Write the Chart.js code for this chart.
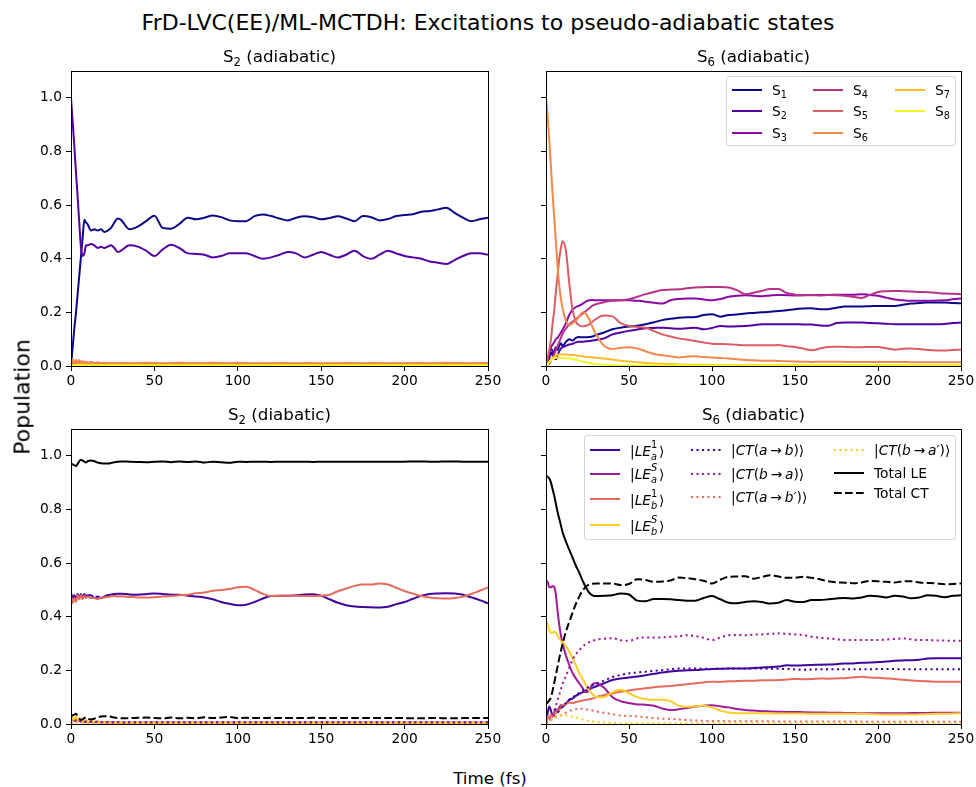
<!DOCTYPE html>
<html>
<head>
<meta charset="utf-8">
<script src="https://cdn.jsdelivr.net/npm/chart.js@4.4.1/dist/chart.umd.min.js"></script>
<style>
  body { margin: 0; background: #fff; font-family: 'DejaVu Sans', sans-serif; }
  #fig { position: relative; width: 976px; height: 787px; overflow: hidden; }
  canvas.panel { position: absolute; }
  .lbl { position: absolute; color: #000; white-space: nowrap; transform: translate(-50%, -50%); }
  .legend { position: absolute; border: 1px solid #d6d6d6; border-radius: 3px; background: rgba(255,255,255,0.8); font-size: 13.8px; color: #000; }
  .item { position: absolute; display: flex; align-items: center; height: 22px; white-space: nowrap; }
  .item svg { margin-right: 10px; flex: none; }
  sub { font-size: 0.7em; vertical-align: -0.3em; line-height: 0; }
  .ss { display: inline-block; position: relative; width: 8px; height: 14px; }
  .ss .up, .ss .dn { position: absolute; left: 0; font-size: 9.8px; line-height: 1; }
  .ss .up { top: -2px; }
  .ss .dn { top: 10px; }
</style>
</head>
<body>
<div id="fig">
  <canvas id="tl" class="panel"></canvas>
  <canvas id="tr" class="panel"></canvas>
  <canvas id="bl" class="panel"></canvas>
  <canvas id="br" class="panel"></canvas>
</div>
<script>
// time grid (fs)
const time = [0,1,2,3,4,5,6,7,8,9,10,12,14,16,18,20,22,24,26,28,30,
  35,40,45,50,55,60,65,70,75,80,85,90,95,100,105,110,115,120,125,130,135,140,145,150,
  155,160,165,170,175,180,185,190,195,200,205,210,215,220,225,230,235,240,245,250];

// ---- excitation to S2, adiabatic populations ----
const s2Adia_S1 = [0,0.07,0.14,0.2,0.27,0.34,0.41,0.48,0.545,0.535,0.528,0.505,0.51,0.505,0.51,0.5,0.505,0.515,0.535,0.55,0.545,
  0.51,0.52,0.54,0.56,0.515,0.512,0.53,0.553,0.547,0.553,0.561,0.555,0.543,0.54,0.54,0.559,0.565,0.559,0.55,0.543,
  0.553,0.558,0.555,0.547,0.552,0.558,0.55,0.54,0.559,0.555,0.543,0.548,0.559,0.563,0.566,0.575,0.578,0.584,0.59,0.571,
  0.553,0.54,0.547,0.553];
const s2Adia_S2 = [1,0.91,0.82,0.72,0.63,0.53,0.44,0.41,0.42,0.45,0.45,0.455,0.45,0.44,0.445,0.44,0.445,0.45,0.44,0.425,0.43,
  0.45,0.445,0.43,0.41,0.435,0.452,0.44,0.42,0.418,0.415,0.405,0.41,0.42,0.42,0.42,0.41,0.4,0.405,0.415,0.425,
  0.42,0.405,0.415,0.425,0.415,0.405,0.415,0.43,0.41,0.4,0.415,0.43,0.42,0.41,0.405,0.4,0.39,0.385,0.38,0.395,
  0.41,0.42,0.42,0.415];
const s2Adia_S3 = [0,0.006,0.01,0.006,0.009,0.005,0.008,0.005,0.007,0.004,0.006,0.005,0.004,0.005,0.004,0.004,0.003,0.004,0.003,0.003,0.003,
  0.003,0.003,0.004,0.003,0.003,0.003,0.003,0.004,0.003,0.003,0.003,0.003,0.003,0.004,0.003,0.003,0.003,0.003,0.003,0.003,
  0.003,0.003,0.004,0.003,0.003,0.003,0.003,0.003,0.003,0.003,0.003,0.003,0.003,0.003,0.004,0.003,0.003,0.003,0.003,0.003,
  0.003,0.003,0.003,0.003];
const s2Adia_S4 = [0,0.003,0.006,0.004,0.006,0.004,0.005,0.004,0.005,0.004,0.004,0.004,0.003,0.004,0.003,0.003,0.003,0.003,0.003,0.003,0.003,
  0.002,0.002,0.003,0.002,0.002,0.002,0.002,0.003,0.002,0.002,0.002,0.002,0.002,0.003,0.002,0.002,0.002,0.002,0.002,0.002,
  0.002,0.002,0.003,0.002,0.002,0.002,0.002,0.002,0.002,0.002,0.002,0.002,0.002,0.002,0.003,0.002,0.002,0.002,0.002,0.002,
  0.002,0.002,0.002,0.002];
const s2Adia_S5 = [0,0.02,0.01,0.022,0.008,0.02,0.01,0.018,0.01,0.016,0.012,0.015,0.01,0.013,0.01,0.011,0.009,0.01,0.009,0.01,0.009,
  0.008,0.009,0.009,0.01,0.009,0.008,0.009,0.009,0.01,0.009,0.008,0.009,0.009,0.01,0.009,0.008,0.008,0.009,0.009,0.008,
  0.008,0.009,0.009,0.008,0.008,0.009,0.009,0.008,0.008,0.009,0.009,0.008,0.008,0.009,0.009,0.008,0.009,0.009,0.01,0.009,
  0.008,0.009,0.009,0.008];
const s2Adia_S6 = [0,0.025,0.012,0.02,0.01,0.022,0.012,0.018,0.01,0.016,0.01,0.015,0.01,0.013,0.01,0.012,0.01,0.011,0.01,0.01,0.011,
  0.011,0.01,0.012,0.011,0.01,0.011,0.012,0.011,0.01,0.011,0.012,0.011,0.01,0.012,0.011,0.01,0.011,0.01,0.011,0.011,
  0.01,0.011,0.011,0.01,0.011,0.01,0.011,0.011,0.01,0.011,0.011,0.01,0.011,0.01,0.011,0.011,0.01,0.011,0.012,0.011,
  0.011,0.01,0.011,0.011];
const s2Adia_S7 = [0,0.004,0.006,0.005,0.006,0.005,0.006,0.005,0.005,0.005,0.005,0.005,0.004,0.004,0.004,0.004,0.004,0.004,0.004,0.004,0.004,
  0.004,0.004,0.004,0.004,0.004,0.004,0.004,0.004,0.004,0.004,0.004,0.004,0.004,0.004,0.004,0.004,0.004,0.004,0.004,0.004,
  0.004,0.004,0.004,0.004,0.004,0.004,0.004,0.004,0.004,0.004,0.004,0.004,0.004,0.004,0.004,0.004,0.004,0.004,0.004,0.004,
  0.004,0.004,0.004,0.004];
const s2Adia_S8 = [0,0.002,0.003,0.003,0.003,0.003,0.003,0.003,0.002,0.002,0.002,0.002,0.002,0.002,0.002,0.002,0.002,0.002,0.002,0.002,0.002,
  0.002,0.002,0.002,0.002,0.002,0.002,0.002,0.002,0.002,0.002,0.002,0.002,0.002,0.002,0.002,0.002,0.002,0.002,0.002,0.002,
  0.002,0.002,0.002,0.002,0.002,0.002,0.002,0.002,0.002,0.002,0.002,0.002,0.002,0.002,0.002,0.002,0.002,0.002,0.002,0.002,
  0.002,0.002,0.002,0.002];

// ---- excitation to S6, adiabatic populations ----
const s6Adia_S1 = [0,0.01,0.03,0.05,0.04,0.055,0.07,0.06,0.075,0.085,0.075,0.09,0.1,0.095,0.105,0.108,0.107,0.107,0.108,0.11,0.115,
  0.125,0.137,0.143,0.147,0.15,0.156,0.163,0.171,0.176,0.18,0.182,0.183,0.19,0.193,0.184,0.19,0.192,0.196,0.198,0.2,
  0.202,0.205,0.208,0.212,0.214,0.215,0.212,0.212,0.217,0.222,0.222,0.222,0.223,0.224,0.224,0.224,0.228,0.233,0.235,0.237,
  0.237,0.237,0.235,0.234];
const s6Adia_S2 = [0,0.02,0.04,0.065,0.055,0.03,0.025,0.04,0.055,0.065,0.07,0.075,0.08,0.083,0.088,0.09,0.09,0.092,0.093,0.095,0.097,
  0.103,0.118,0.125,0.131,0.136,0.141,0.142,0.143,0.141,0.139,0.141,0.143,0.137,0.142,0.149,0.147,0.148,0.149,0.152,0.156,
  0.156,0.156,0.156,0.156,0.155,0.155,0.151,0.15,0.16,0.162,0.162,0.162,0.16,0.159,0.158,0.156,0.156,0.156,0.156,0.156,
  0.156,0.157,0.16,0.162];
const s6Adia_S3 = [0,0.02,0.05,0.07,0.08,0.09,0.1,0.105,0.115,0.125,0.135,0.16,0.19,0.21,0.22,0.225,0.232,0.24,0.245,0.246,0.245,
  0.245,0.245,0.245,0.245,0.243,0.24,0.236,0.233,0.245,0.25,0.252,0.252,0.248,0.245,0.25,0.258,0.262,0.264,0.262,0.26,
  0.263,0.265,0.264,0.263,0.264,0.265,0.265,0.265,0.266,0.266,0.266,0.268,0.265,0.262,0.255,0.248,0.245,0.243,0.243,0.243,
  0.244,0.245,0.249,0.252];
const s6Adia_S4 = [0,0.005,0.01,0.02,0.03,0.045,0.06,0.075,0.09,0.105,0.12,0.14,0.155,0.165,0.175,0.185,0.195,0.205,0.215,0.225,0.23,
  0.238,0.243,0.245,0.249,0.258,0.268,0.276,0.283,0.285,0.286,0.29,0.293,0.294,0.295,0.295,0.293,0.283,0.268,0.273,0.28,
  0.287,0.287,0.272,0.266,0.264,0.264,0.263,0.265,0.264,0.262,0.258,0.254,0.265,0.276,0.279,0.28,0.279,0.278,0.276,0.275,
  0.273,0.27,0.269,0.268];
const s6Adia_S5 = [0,0.03,0.06,0.1,0.16,0.21,0.28,0.34,0.4,0.44,0.465,0.43,0.31,0.21,0.165,0.152,0.148,0.15,0.155,0.165,0.175,
  0.188,0.185,0.16,0.15,0.145,0.143,0.13,0.118,0.11,0.103,0.098,0.093,0.088,0.083,0.082,0.081,0.079,0.077,0.077,0.077,
  0.077,0.078,0.074,0.071,0.065,0.059,0.065,0.071,0.072,0.071,0.07,0.07,0.071,0.071,0.066,0.061,0.064,0.065,0.063,0.06,
  0.058,0.058,0.06,0.061];
const s6Adia_S6 = [1,0.93,0.84,0.74,0.64,0.55,0.46,0.37,0.3,0.25,0.215,0.17,0.152,0.16,0.17,0.185,0.2,0.195,0.175,0.145,0.12,
  0.075,0.063,0.068,0.07,0.065,0.055,0.045,0.04,0.036,0.032,0.035,0.036,0.034,0.032,0.03,0.028,0.025,0.022,0.021,0.02,
  0.02,0.019,0.018,0.017,0.016,0.015,0.016,0.016,0.016,0.015,0.015,0.015,0.015,0.015,0.015,0.015,0.015,0.014,0.014,0.014,
  0.014,0.014,0.014,0.014];
const s6Adia_S7 = [0,0.008,0.016,0.024,0.03,0.035,0.039,0.042,0.043,0.043,0.043,0.042,0.042,0.041,0.04,0.038,0.036,0.034,0.033,0.032,0.031,
  0.028,0.024,0.02,0.017,0.014,0.011,0.009,0.008,0.007,0.006,0.005,0.005,0.005,0.004,0.004,0.004,0.004,0.004,0.004,0.004,
  0.004,0.004,0.003,0.003,0.003,0.003,0.003,0.003,0.003,0.003,0.003,0.003,0.003,0.003,0.003,0.003,0.003,0.003,0.003,0.003,
  0.003,0.003,0.003,0.003];
const s6Adia_S8 = [0,0.008,0.015,0.021,0.026,0.029,0.031,0.031,0.031,0.03,0.03,0.029,0.028,0.026,0.023,0.02,0.017,0.014,0.011,0.009,0.007,
  0.005,0.003,0.002,0.002,0.002,0.002,0.002,0.002,0.002,0.002,0.002,0.002,0.002,0.002,0.002,0.002,0.002,0.002,0.002,0.002,
  0.002,0.002,0.002,0.002,0.002,0.002,0.002,0.002,0.002,0.002,0.002,0.002,0.002,0.002,0.002,0.002,0.002,0.002,0.002,0.002,
  0.002,0.002,0.002,0.002];

// ---- excitation to S2, diabatic populations ----
const s2Dia_LEa1 = [0.49,0.47,0.48,0.465,0.485,0.47,0.485,0.47,0.485,0.475,0.48,0.48,0.47,0.475,0.47,0.475,0.48,0.483,0.485,0.486,0.486,
  0.483,0.482,0.484,0.487,0.485,0.482,0.482,0.478,0.475,0.472,0.465,0.455,0.448,0.443,0.445,0.455,0.468,0.477,0.478,0.478,
  0.48,0.483,0.484,0.478,0.465,0.452,0.443,0.438,0.436,0.435,0.434,0.437,0.447,0.455,0.467,0.478,0.485,0.487,0.488,0.487,
  0.482,0.472,0.462,0.45];
const s2Dia_LEaS = [0.01,0.02,0.012,0.018,0.01,0.015,0.008,0.012,0.008,0.01,0.007,0.008,0.006,0.007,0.006,0.006,0.005,0.006,0.005,0.005,0.005,
  0.005,0.005,0.005,0.005,0.005,0.005,0.005,0.005,0.005,0.005,0.005,0.005,0.005,0.005,0.005,0.005,0.005,0.005,0.005,0.005,
  0.005,0.005,0.005,0.005,0.005,0.005,0.005,0.005,0.005,0.005,0.005,0.005,0.005,0.005,0.005,0.005,0.005,0.005,0.005,0.005,
  0.005,0.005,0.005,0.005];
const s2Dia_LEb1 = [0.48,0.45,0.47,0.455,0.48,0.465,0.48,0.465,0.478,0.47,0.475,0.47,0.47,0.465,0.472,0.472,0.474,0.476,0.477,0.475,0.476,
  0.474,0.472,0.472,0.473,0.475,0.477,0.48,0.482,0.488,0.49,0.497,0.5,0.503,0.51,0.512,0.5,0.485,0.477,0.478,0.478,
  0.478,0.477,0.477,0.478,0.482,0.495,0.505,0.515,0.52,0.52,0.524,0.52,0.508,0.496,0.486,0.477,0.472,0.469,0.468,0.47,
  0.475,0.485,0.497,0.509];
const s2Dia_LEbS = [0.01,0.025,0.015,0.028,0.012,0.022,0.01,0.018,0.01,0.015,0.008,0.012,0.008,0.01,0.007,0.007,0.006,0.006,0.005,0.005,0.005,
  0.004,0.004,0.004,0.004,0.004,0.004,0.004,0.004,0.004,0.004,0.004,0.004,0.004,0.004,0.004,0.004,0.004,0.004,0.004,0.004,
  0.004,0.004,0.004,0.004,0.004,0.004,0.004,0.004,0.004,0.004,0.004,0.004,0.004,0.004,0.004,0.004,0.004,0.004,0.004,0.004,
  0.004,0.004,0.004,0.004];
const s2Dia_CTab = [0,0.008,0.012,0.01,0.014,0.009,0.012,0.008,0.01,0.008,0.009,0.008,0.007,0.008,0.007,0.007,0.007,0.007,0.006,0.007,0.006,
  0.006,0.006,0.006,0.006,0.006,0.006,0.006,0.006,0.006,0.006,0.006,0.006,0.006,0.006,0.006,0.006,0.006,0.006,0.006,0.006,
  0.006,0.006,0.006,0.006,0.006,0.006,0.006,0.006,0.006,0.006,0.006,0.006,0.006,0.006,0.006,0.006,0.006,0.006,0.006,0.006,
  0.006,0.006,0.006,0.006];
const s2Dia_CTba = [0,0.01,0.008,0.014,0.01,0.012,0.008,0.011,0.008,0.009,0.008,0.008,0.007,0.008,0.007,0.007,0.007,0.007,0.007,0.007,0.007,
  0.007,0.007,0.007,0.007,0.007,0.007,0.007,0.007,0.007,0.007,0.007,0.007,0.007,0.007,0.007,0.007,0.007,0.007,0.007,0.007,
  0.007,0.007,0.007,0.007,0.007,0.007,0.007,0.007,0.007,0.007,0.007,0.007,0.007,0.007,0.007,0.007,0.007,0.007,0.007,0.007,
  0.007,0.007,0.007,0.007];
const s2Dia_CTab2 = [0,0.006,0.008,0.007,0.008,0.006,0.007,0.006,0.006,0.005,0.005,0.005,0.005,0.005,0.005,0.005,0.005,0.005,0.005,0.005,0.005,
  0.005,0.005,0.005,0.005,0.005,0.005,0.005,0.005,0.005,0.005,0.005,0.005,0.005,0.005,0.005,0.005,0.005,0.005,0.005,0.005,
  0.005,0.005,0.005,0.005,0.005,0.005,0.005,0.005,0.005,0.005,0.005,0.005,0.005,0.005,0.005,0.005,0.005,0.005,0.005,0.005,
  0.005,0.005,0.005,0.005];
const s2Dia_CTba2 = [0,0.005,0.008,0.006,0.007,0.005,0.006,0.005,0.005,0.005,0.004,0.004,0.004,0.004,0.004,0.004,0.004,0.004,0.004,0.004,0.004,
  0.004,0.004,0.004,0.004,0.004,0.004,0.004,0.004,0.004,0.004,0.004,0.004,0.004,0.004,0.004,0.004,0.004,0.004,0.004,0.004,
  0.004,0.004,0.004,0.004,0.004,0.004,0.004,0.004,0.004,0.004,0.004,0.004,0.004,0.004,0.004,0.004,0.004,0.004,0.004,0.004,
  0.004,0.004,0.004,0.004];
const s2Dia_totLE = [0.97,0.968,0.965,0.962,0.97,0.98,0.985,0.982,0.978,0.975,0.98,0.983,0.98,0.975,0.972,0.971,0.971,0.973,0.976,0.978,0.979,
  0.978,0.977,0.976,0.978,0.979,0.976,0.979,0.977,0.979,0.975,0.978,0.976,0.974,0.978,0.977,0.978,0.978,0.977,0.978,0.978,
  0.978,0.978,0.977,0.978,0.978,0.978,0.978,0.978,0.978,0.978,0.978,0.978,0.978,0.978,0.979,0.979,0.978,0.978,0.979,0.979,
  0.978,0.978,0.978,0.978];
const s2Dia_totCT = [0.03,0.032,0.035,0.038,0.03,0.02,0.015,0.018,0.022,0.025,0.02,0.017,0.02,0.025,0.028,0.029,0.029,0.027,0.024,0.022,0.021,
  0.022,0.023,0.024,0.022,0.021,0.024,0.021,0.023,0.021,0.025,0.022,0.024,0.026,0.022,0.023,0.022,0.022,0.023,0.022,0.022,
  0.022,0.022,0.023,0.022,0.022,0.022,0.022,0.022,0.022,0.022,0.022,0.022,0.022,0.022,0.021,0.021,0.022,0.022,0.021,0.021,
  0.022,0.022,0.022,0.022];

// ---- excitation to S6, diabatic populations ----
const s6Dia_LEa1 = [0,0.04,0.065,0.05,0.03,0.045,0.055,0.045,0.06,0.07,0.065,0.075,0.09,0.095,0.105,0.112,0.118,0.125,0.13,0.135,0.14,
  0.152,0.164,0.17,0.173,0.177,0.182,0.187,0.192,0.196,0.199,0.2,0.201,0.203,0.205,0.206,0.207,0.207,0.207,0.209,0.211,
  0.212,0.214,0.219,0.218,0.219,0.22,0.221,0.222,0.223,0.226,0.226,0.228,0.229,0.231,0.233,0.236,0.237,0.238,0.24,0.244,
  0.245,0.245,0.245,0.245];
const s6Dia_LEaS = [0.535,0.53,0.51,0.51,0.515,0.51,0.48,0.42,0.37,0.33,0.3,0.255,0.22,0.19,0.17,0.152,0.135,0.118,0.125,0.148,0.152,
  0.135,0.1,0.085,0.078,0.073,0.072,0.068,0.058,0.052,0.055,0.06,0.065,0.068,0.07,0.066,0.062,0.056,0.052,0.05,0.048,
  0.047,0.046,0.045,0.045,0.044,0.043,0.043,0.042,0.042,0.041,0.041,0.04,0.04,0.04,0.04,0.04,0.04,0.041,0.041,0.041,
  0.042,0.042,0.042,0.042];
const s6Dia_LEb1 = [0,0.03,0.02,0.035,0.025,0.045,0.04,0.055,0.05,0.065,0.07,0.075,0.08,0.078,0.082,0.085,0.088,0.09,0.092,0.095,0.1,
  0.108,0.114,0.12,0.125,0.13,0.133,0.137,0.14,0.142,0.145,0.148,0.152,0.155,0.158,0.157,0.159,0.16,0.161,0.161,0.163,
  0.163,0.164,0.166,0.168,0.167,0.168,0.17,0.169,0.17,0.171,0.174,0.176,0.173,0.172,0.17,0.168,0.165,0.162,0.16,0.159,
  0.158,0.158,0.158,0.158];
const s6Dia_LEbS = [0.385,0.37,0.35,0.34,0.34,0.345,0.34,0.33,0.32,0.31,0.305,0.29,0.27,0.245,0.22,0.19,0.17,0.145,0.125,0.112,0.102,
  0.1,0.118,0.128,0.115,0.1,0.092,0.09,0.09,0.085,0.068,0.064,0.066,0.068,0.062,0.05,0.043,0.04,0.04,0.04,0.04,
  0.04,0.039,0.039,0.039,0.039,0.038,0.038,0.038,0.038,0.038,0.038,0.038,0.037,0.036,0.035,0.035,0.035,0.035,0.036,0.037,
  0.038,0.038,0.039,0.04];
const s6Dia_CTab = [0,0.005,0.01,0.015,0.02,0.027,0.035,0.042,0.05,0.057,0.065,0.078,0.09,0.1,0.108,0.116,0.124,0.132,0.139,0.145,0.15,
  0.162,0.175,0.183,0.189,0.192,0.195,0.198,0.201,0.204,0.207,0.207,0.207,0.206,0.205,0.206,0.207,0.207,0.207,0.207,0.207,
  0.206,0.206,0.205,0.204,0.202,0.203,0.204,0.204,0.204,0.204,0.204,0.204,0.204,0.205,0.205,0.205,0.204,0.204,0.204,0.204,
  0.204,0.204,0.204,0.204];
const s6Dia_CTba = [0,0.005,0.01,0.02,0.035,0.05,0.07,0.09,0.11,0.13,0.15,0.18,0.21,0.24,0.26,0.275,0.288,0.298,0.305,0.31,0.314,
  0.318,0.32,0.312,0.31,0.32,0.323,0.323,0.323,0.325,0.327,0.331,0.328,0.322,0.313,0.322,0.331,0.332,0.331,0.333,0.334,
  0.336,0.338,0.336,0.334,0.332,0.325,0.322,0.319,0.316,0.313,0.313,0.313,0.313,0.313,0.315,0.317,0.319,0.316,0.313,0.313,
  0.312,0.311,0.31,0.31];
const s6Dia_CTab2 = [0,0.005,0.01,0.015,0.02,0.022,0.025,0.027,0.03,0.032,0.035,0.042,0.048,0.052,0.055,0.057,0.057,0.055,0.053,0.05,0.047,
  0.042,0.037,0.032,0.03,0.028,0.025,0.022,0.02,0.019,0.017,0.015,0.013,0.012,0.011,0.011,0.01,0.01,0.01,0.01,0.01,
  0.01,0.009,0.009,0.009,0.009,0.009,0.009,0.009,0.009,0.009,0.009,0.009,0.008,0.008,0.008,0.008,0.008,0.008,0.008,0.008,
  0.008,0.008,0.008,0.008];
const s6Dia_CTba2 = [0,0.005,0.01,0.015,0.02,0.024,0.028,0.03,0.032,0.033,0.033,0.032,0.03,0.027,0.024,0.02,0.017,0.014,0.011,0.009,0.007,
  0.005,0.004,0.003,0.003,0.003,0.003,0.003,0.003,0.003,0.003,0.003,0.003,0.003,0.003,0.003,0.003,0.003,0.003,0.003,0.003,
  0.003,0.003,0.003,0.003,0.003,0.003,0.003,0.003,0.003,0.003,0.003,0.003,0.003,0.003,0.003,0.003,0.003,0.003,0.003,0.003,
  0.003,0.003,0.003,0.003];
const s6Dia_totLE = [0.924,0.922,0.915,0.9,0.875,0.85,0.82,0.79,0.765,0.74,0.715,0.68,0.65,0.62,0.59,0.565,0.535,0.51,0.49,0.48,0.477,
  0.478,0.48,0.487,0.483,0.46,0.458,0.466,0.466,0.465,0.462,0.46,0.46,0.47,0.477,0.465,0.452,0.45,0.455,0.458,0.455,
  0.449,0.452,0.462,0.456,0.455,0.462,0.462,0.465,0.468,0.47,0.468,0.472,0.478,0.476,0.472,0.478,0.475,0.469,0.472,0.48,
  0.478,0.473,0.478,0.48];
const s6Dia_totCT = [0.076,0.08,0.088,0.1,0.125,0.155,0.185,0.215,0.245,0.272,0.298,0.345,0.38,0.415,0.448,0.475,0.497,0.512,0.52,0.523,0.524,
  0.524,0.524,0.518,0.522,0.54,0.537,0.53,0.531,0.535,0.546,0.544,0.54,0.534,0.524,0.538,0.549,0.55,0.551,0.542,0.548,
  0.555,0.55,0.545,0.545,0.549,0.545,0.54,0.532,0.528,0.527,0.525,0.528,0.533,0.532,0.53,0.528,0.532,0.532,0.528,0.526,
  0.524,0.521,0.522,0.524];

// labels
const panelTitles = ['S<sub>2</sub> (adiabatic)', 'S<sub>6</sub> (adiabatic)', 'S<sub>2</sub> (diabatic)', 'S<sub>6</sub> (diabatic)'];
const adiaLabels = ['S<sub>1</sub>','S<sub>2</sub>','S<sub>3</sub>','S<sub>4</sub>','S<sub>5</sub>','S<sub>6</sub>','S<sub>7</sub>','S<sub>8</sub>'];
const diaLabels = [
  '|<i>LE</i><span class="ss"><span class="up">1</span><i class="dn">a</i></span>⟩',
  '|<i>LE</i><span class="ss"><i class="up">S</i><i class="dn">a</i></span>⟩',
  '|<i>LE</i><span class="ss"><span class="up">1</span><i class="dn">b</i></span>⟩',
  '|<i>LE</i><span class="ss"><i class="up">S</i><i class="dn">b</i></span>⟩',
  '|<i>CT</i>(<i>a</i>&thinsp;→&thinsp;<i>b</i>)⟩',
  '|<i>CT</i>(<i>b</i>&thinsp;→&thinsp;<i>a</i>)⟩',
  '|<i>CT</i>(<i>a</i>&thinsp;→&thinsp;<i>b</i>′)⟩',
  '|<i>CT</i>(<i>b</i>&thinsp;→&thinsp;<i>a</i>′)⟩',
  'Total LE', 'Total CT'];

// styles
const adiaColors = ['#0d0887','#5302a3','#8b0aa5','#b83289','#db5c68','#f48849','#febc2a','#f0f921'];
const diaColors = ['#41049d','#a01a9c','#e56b5d','#fccd25','#41049d','#a01a9c','#e56b5d','#fccd25','#000000','#000000'];
const LW = 2;
const DOT = [2.1, 3.4], DASH = [7.7, 3.3];
const diaDash = [[],[],[],[],DOT,DOT,DOT,DOT,[],DASH];

const FONT = "'DejaVu Sans', sans-serif";

const frame = {
  id: 'frame',
  afterDraw(chart) {
    const { ctx, chartArea: a } = chart;
    ctx.save();
    ctx.strokeStyle = '#000';
    ctx.lineWidth = 1;
    ctx.strokeRect(Math.round(a.left) + 0.5, Math.round(a.top) + 0.5, Math.round(a.right - a.left), Math.round(a.bottom - a.top));
    ctx.restore();
  }
};

function makeSets(series, colors, dashes) {
  return series.map((vals, i) => ({
    data: time.map((t, k) => ({ x: t, y: vals[k] })),
    borderColor: colors[i],
    borderDash: dashes ? dashes[i] : [],
    borderWidth: LW,
    pointRadius: 0,
    fill: false,
    cubicInterpolationMode: 'monotone',
    order: series.length - i
  }));
}

const YW = 45, XH = 24, TH = 10, PR = 14;

function panel(id, box, datasets, showY) {
  const cv = document.getElementById(id);
  const w = YW + box.w + PR, h = TH + box.h + XH;
  cv.width = w; cv.height = h;
  cv.style.left = (box.x - YW) + 'px';
  cv.style.top = (box.y - TH) + 'px';
  cv.style.width = w + 'px'; cv.style.height = h + 'px';
  new Chart(cv.getContext('2d'), {
    type: 'line',
    data: { datasets },
    options: {
      responsive: false,
      animation: false,
      layout: { padding: { left: 0, right: PR, top: TH, bottom: 0 } },
      plugins: { legend: { display: false }, tooltip: { enabled: false } },
      scales: {
        x: {
          type: 'linear', min: 0, max: 250,
          ticks: { stepSize: 50, color: '#000', font: { family: FONT, size: 13.8 }, padding: 2, maxRotation: 0 },
          grid: { drawOnChartArea: false, tickLength: 5, tickColor: '#000' },
          border: { color: '#000', width: 1 },
          afterFit: s => { s.height = XH; s.paddingLeft = 0; s.paddingRight = 0; }
        },
        y: {
          min: 0, max: 1.1,
          ticks: { stepSize: 0.2, includeBounds: false, color: '#000', font: { family: FONT, size: 13.8 }, padding: 4,
            callback: v => showY ? v.toFixed(1) : '' },
          grid: { drawOnChartArea: false, tickLength: 5, tickColor: '#000' },
          border: { color: '#000', width: 1 },
          afterFit: s => { s.width = YW; s.paddingTop = 0; s.paddingBottom = 0; }
        }
      }
    },
    plugins: [frame]
  });
}

function legend(box, labels, colors, dashes, ncol, colX, rowY) {
  const el = document.createElement('div');
  el.className = 'legend';
  Object.assign(el.style, { left: box.x + 'px', top: box.y + 'px', width: box.w + 'px', height: box.h + 'px' });
  const n = labels.length, base = Math.floor(n / ncol), extra = n % ncol;
  let k = 0;
  for (let c = 0; c < ncol; c++) {
    const cnt = base + (c < extra ? 1 : 0);
    for (let r = 0; r < cnt; r++, k++) {
      const it = document.createElement('div');
      it.className = 'item';
      it.style.left = colX[c] + 'px';
      it.style.top = (rowY[c][r] - 11) + 'px';
      const da = dashes && dashes[k].length ? `stroke-dasharray="${dashes[k].join(' ')}"` : '';
      it.innerHTML = `<svg width="30" height="10"><line x1="0" y1="5" x2="30" y2="5" stroke="${colors[k]}" stroke-width="${LW}" ${da}/></svg><span>${labels[k]}</span>`;
      el.appendChild(it);
    }
  }
  document.getElementById('fig').appendChild(el);
}

function text(str, x, y, size, rot) {
  const d = document.createElement('div');
  d.className = 'lbl';
  d.style.left = x + 'px'; d.style.top = y + 'px';
  d.style.fontSize = size + 'px';
  if (rot) d.style.transform = 'translate(-50%, -50%) rotate(-90deg)';
  d.innerHTML = str;
  document.getElementById('fig').appendChild(d);
}

const boxTL = { x: 71, y: 71, w: 417, h: 295 };
const boxTR = { x: 546, y: 71, w: 415, h: 295 };
const boxBL = { x: 71, y: 429, w: 417, h: 295 };
const boxBR = { x: 546, y: 429, w: 415, h: 295 };

panel('tl', boxTL,
  makeSets([s2Adia_S1, s2Adia_S2, s2Adia_S3, s2Adia_S4, s2Adia_S5, s2Adia_S6, s2Adia_S7, s2Adia_S8], adiaColors), true);
panel('tr', boxTR,
  makeSets([s6Adia_S1, s6Adia_S2, s6Adia_S3, s6Adia_S4, s6Adia_S5, s6Adia_S6, s6Adia_S7, s6Adia_S8], adiaColors), false);
panel('bl', boxBL,
  makeSets([s2Dia_LEa1, s2Dia_LEaS, s2Dia_LEb1, s2Dia_LEbS, s2Dia_CTab, s2Dia_CTba, s2Dia_CTab2, s2Dia_CTba2, s2Dia_totLE, s2Dia_totCT], diaColors, diaDash), true);
panel('br', boxBR,
  makeSets([s6Dia_LEa1, s6Dia_LEaS, s6Dia_LEb1, s6Dia_LEbS, s6Dia_CTab, s6Dia_CTba, s6Dia_CTab2, s6Dia_CTba2, s6Dia_totLE, s6Dia_totCT], diaColors, diaDash), false);

[boxTL, boxTR, boxBL, boxBR].forEach((b, i) => text(panelTitles[i], b.x + b.w / 2, b.y - 15, 16.7));

legend({ x: 726, y: 76, w: 228, h: 68 }, adiaLabels, adiaColors, null, 3,
  [5, 86, 168], [[13, 34.3, 55.5], [13, 34.3, 55.5], [13, 34.3]]);
legend({ x: 584, y: 435, w: 370, h: 103 }, diaLabels, diaColors, diaDash, 3,
  [5, 106, 249], [[14, 37.7, 63.3, 89.3], [14, 37.7, 61], [14, 36.7, 56.7]]);

text('FrD-LVC(EE)/ML-MCTDH: Excitations to pseudo-adiabatic states', 488, 22, 22);
text('Population', 22, 397, 22, true);
text('Time (fs)', 490, 778, 16.7);
</script>
</body>
</html>
